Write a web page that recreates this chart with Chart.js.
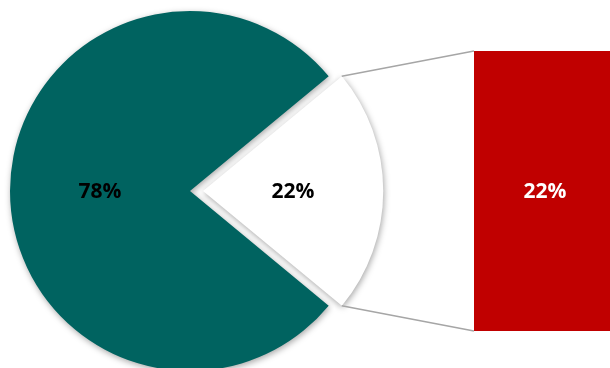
<!DOCTYPE html>
<html>
<head>
<meta charset="utf-8">
<script src="https://cdn.jsdelivr.net/npm/chart.js@4.4.1/dist/chart.umd.min.js"></script>
<style>
  html, body { margin:0; padding:0; background:#fff; overflow:hidden; }
  #wrap { position:relative; width:610px; height:368px; overflow:hidden; }
  #pie { position:absolute; left:0; top:0; }
  #bar { position:absolute; left:464px; top:41px; }
</style>
</head>
<body>
<div id="wrap">
  <canvas id="bar" width="160" height="300"></canvas>
  <canvas id="pie" width="610" height="368"></canvas>
</div>
<script>
// values
var pie_labels = ['Rest', 'Detail'];
var pie_values = [78, 22];
var pie_colors = ['#006360', '#ffffff'];
var bar_labels = ['Detail'];
var bar_values = [22];
var bar_color = '#C00000';
var label_font = "bold 21px 'Open Sans', sans-serif";

// bar on the right (secondary part of the pie-of-bar)
var barChart = new Chart(document.getElementById('bar'), {
    type: 'bar',
    data: {
        labels: bar_labels,
        datasets: [{
            data: bar_values,
            backgroundColor: bar_color,
            borderWidth: 0,
            barPercentage: 1,
            categoryPercentage: 1
        }]
    },
    options: {
        responsive: false,
        animation: false,
        layout: { padding: { left: 10, top: 10, bottom: 10, right: 0 } },
        scales: {
            x: { display: false },
            y: { display: false, min: 0, max: bar_values[0] }
        },
        plugins: { legend: { display: false }, tooltip: { enabled: false } }
    },
    plugins: [{
        id: 'barShadowLabels',
        beforeDatasetsDraw: function(chart){
            var ctx = chart.ctx;
            ctx.save();
            ctx.shadowColor = 'rgba(0,0,0,0.4)';
            ctx.shadowBlur = 5;
            ctx.shadowOffsetX = -1;
            ctx.shadowOffsetY = 2;
        },
        afterDatasetsDraw: function(chart){
            var ctx = chart.ctx;
            ctx.restore();
            var el = chart.getDatasetMeta(0).data[0];
            ctx.save();
            ctx.font = label_font;
            ctx.fillStyle = '#ffffff';
            ctx.textAlign = 'center';
            ctx.textBaseline = 'middle';
            ctx.fillText(bar_values[0] + '%', el.x - 4, (el.y + el.base) / 2 + 1);
            ctx.restore();
        }
    }]
});

var pieChart = new Chart(document.getElementById('pie'), {
    type: 'pie',
    data: {
        labels: pie_labels,
        datasets: [{
            data: pie_values,
            backgroundColor: pie_colors,
            borderWidth: 0,
            offset: [0, 52]
        }]
    },
    options: {
        responsive: false,
        animation: false,
        rotation: 129.6,
        radius: 180,
        layout: { padding: { left: 0, right: 230, top: 14, bottom: 0 } },
        plugins: { legend: { display: false }, tooltip: { enabled: false } }
    },
    plugins: [{
        id: 'pieExtras',
        beforeDatasetsDraw: function(chart){
            var ctx = chart.ctx;
            ctx.save();
            ctx.shadowColor = 'rgba(0,0,0,0.35)';
            ctx.shadowBlur = 6;
            ctx.shadowOffsetX = 1;
            ctx.shadowOffsetY = 2;
        },
        afterDatasetsDraw: function(chart){
            var ctx = chart.ctx;
            ctx.restore();
            var arcs = chart.getDatasetMeta(0).data;
            ctx.save();
            ctx.font = label_font;
            ctx.fillStyle = '#000000';
            ctx.textAlign = 'center';
            ctx.textBaseline = 'middle';
            arcs.forEach(function(arc, i){
                var mid = (arc.startAngle + arc.endAngle) / 2;
                var shift = (arc.options.offset || 0) / 4;
                var r = arc.outerRadius / 2;
                var x = arc.x + Math.cos(mid) * (r + shift);
                var y = arc.y + Math.sin(mid) * (r + shift);
                ctx.fillText(pie_values[i] + '%', x, y + 1);
            });
            // connector lines from the exploded slice to the bar
            var s = arcs[1];
            var sh = (s.options.offset || 0) / 4;
            var smid = (s.startAngle + s.endAngle) / 2;
            var ox = s.x + Math.cos(smid) * sh;
            var oy = s.y + Math.sin(smid) * sh;
            var b = barChart.getDatasetMeta(0).data[0];
            var bl = 464 + b.x - b.width / 2;
            var bt = 41 + b.y;
            var bb = 41 + b.base;
            ctx.strokeStyle = '#A6A6A6';
            ctx.lineWidth = 1.5;
            ctx.beginPath();
            ctx.moveTo(ox + Math.cos(s.startAngle) * s.outerRadius, oy + Math.sin(s.startAngle) * s.outerRadius);
            ctx.lineTo(bl, bt);
            ctx.moveTo(ox + Math.cos(s.endAngle) * s.outerRadius, oy + Math.sin(s.endAngle) * s.outerRadius);
            ctx.lineTo(bl, bb);
            ctx.stroke();
            ctx.restore();
        }
    }]
});
</script>
</body>
</html>
